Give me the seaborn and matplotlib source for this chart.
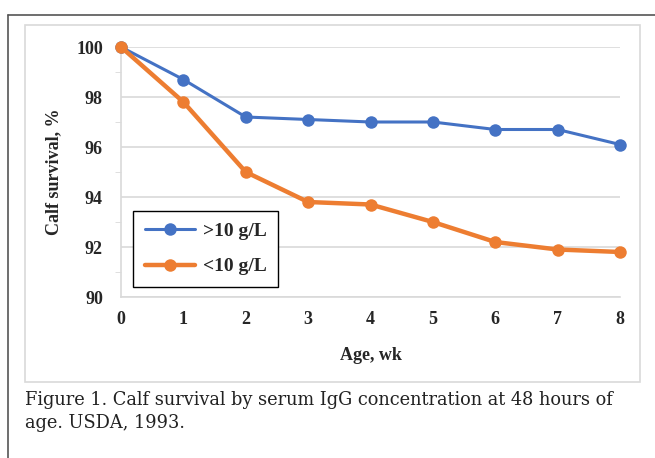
import pandas as pd
import seaborn as sns
import matplotlib.pyplot as plt
from matplotlib.lines import Line2D
from matplotlib.ticker import MultipleLocator

# Data
age_wk = [0, 1, 2, 3, 4, 5, 6, 7, 8]
high_igg = [100, 98.7, 97.2, 97.1, 97.0, 97.0, 96.7, 96.7, 96.1]
low_igg = [100, 97.8, 95.0, 93.8, 93.7, 93.0, 92.2, 91.9, 91.8]
series_labels = [">10 g/L", "<10 g/L"]
series_colors = ["#4472C4", "#ED7D31"]

df = pd.DataFrame({"age": age_wk * 2,
                   "survival": high_igg + low_igg,
                   "group": [series_labels[0]] * len(age_wk) + [series_labels[1]] * len(age_wk)})

sns.set_style("white")
plt.rcParams["font.family"] = ["Liberation Serif", "DejaVu Serif"]

fig = plt.figure(figsize=(6.55, 4.58), dpi=100)
ax = fig.add_axes([121 / 655, 1 - 297 / 458, (620 - 121) / 655, (297 - 47) / 458])

widths = [2.2, 3.2]
for lab, col, lw in zip(series_labels, series_colors, widths):
    sub = df[df["group"] == lab]
    sns.lineplot(data=sub, x="age", y="survival", ax=ax, color=col, linewidth=lw,
                 marker="o", markersize=9, markeredgewidth=0, label=lab, legend=False,
                 zorder=3)

ax.set_xlim(0, 8)
ax.set_ylim(90, 100)
ax.set_xticks(age_wk)
ax.set_yticks([90, 92, 94, 96, 98, 100])
ax.yaxis.set_minor_locator(MultipleLocator(1))
ax.grid(axis="y", color="#d9d9d9", linewidth=1.2, zorder=0)
ax.tick_params(axis="x", length=0, pad=10, labelsize=13)
ax.tick_params(axis="y", which="major", length=5, color="#d9d9d9", pad=8, labelsize=13)
ax.tick_params(axis="y", which="minor", length=4, color="#d9d9d9", left=True)
for t in ax.get_xticklabels() + ax.get_yticklabels():
    t.set_fontweight("bold")
for s in ["top", "right"]:
    ax.spines[s].set_visible(False)
ax.spines["left"].set_color("#d9d9d9")
ax.spines["bottom"].set_color("#d9d9d9")
ax.spines["left"].set_linewidth(1.2)
ax.spines["bottom"].set_linewidth(1.2)
ax.margins(x=0)
for ln in ax.lines:
    ln.set_clip_on(False)

ax.set_xlabel("Age, wk", fontsize=13, fontweight="bold", labelpad=14)
ax.set_ylabel("Calf survival, %", fontsize=13, fontweight="bold", labelpad=10)

handles = [Line2D([0], [0], color=c, linewidth=lw, marker="o", markersize=9, markeredgewidth=0)
           for c, lw in zip(series_colors, widths)]
leg = ax.legend(handles, series_labels, loc="lower left", bbox_to_anchor=(12 / 499, 10 / 250),
                borderaxespad=0, fancybox=False, edgecolor="black", framealpha=1,
                handlelength=2.6, handletextpad=0.4,
                prop={"weight": "bold", "size": 14}, borderpad=0.6, labelspacing=0.9)
leg.get_frame().set_linewidth(1.0)

# Light frame around chart area and dark outer border
fig.patches.append(plt.Rectangle((25 / 655, 1 - 382 / 458), 615 / 655, 357 / 458,
                                 transform=fig.transFigure, fill=False,
                                 edgecolor="#d9d9d9", linewidth=1.2))
fig.add_artist(Line2D([8 / 655, 1], [1 - 15 / 458] * 2, transform=fig.transFigure,
                      color="#555555", linewidth=1.2))
fig.add_artist(Line2D([8 / 655] * 2, [0, 1 - 15 / 458], transform=fig.transFigure,
                      color="#555555", linewidth=1.2))

caption_font = ["DejaVu Serif"]
fig.text(25 / 655, 1 - 400 / 458, "Figure 1. Calf survival by serum IgG concentration at 48 hours of",
         fontsize=12.8, va="center", ha="left", family=caption_font, color="#222222")
fig.text(25 / 655, 1 - 423 / 458, "age. USDA, 1993.", fontsize=12.8, va="center", ha="left",
         family=caption_font, color="#222222")

fig.savefig("out.png", dpi=100)
